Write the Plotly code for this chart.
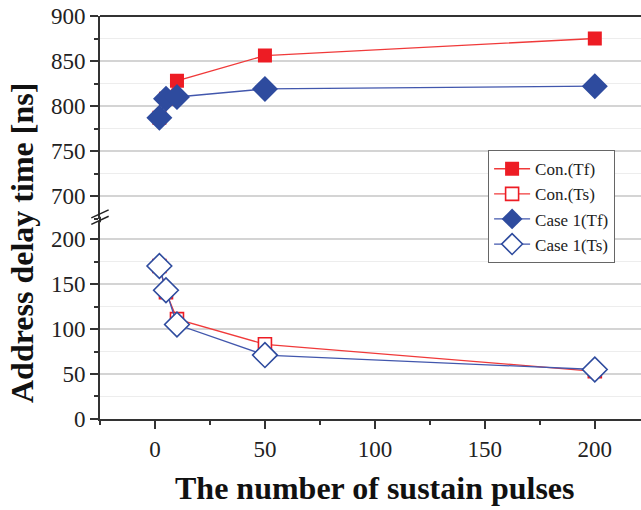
import plotly.graph_objects as go

pulses = [2, 5, 10, 50, 200]
con_tf = [787, 808, 828, 856, 875]
con_ts = [170, 141, 111, 83, 53]
case1_tf = [787, 808, 810, 819, 822]
case1_ts = [170, 143, 105, 71, 55]

upper_ticks = [700, 750, 800, 850, 900]
lower_ticks = [0, 50, 100, 150, 200]
x_ticks = [0, 50, 100, 150, 200]

RED = "#ed1c24"
BLUE = "#2e4b9e"
RED_LINE = "#f03a3a"
BLUE_LINE = "#4257ad"
FONT = "'Liberation Serif', 'Times New Roman', serif"

fig = go.Figure()
fig.add_trace(go.Scatter(x=pulses, y=con_tf, name="Con.(Tf)", yaxis="y2", mode="lines+markers",
                         line=dict(color=RED_LINE, width=1.3),
                         marker=dict(symbol="square", size=14, color=RED, line=dict(width=0))))
fig.add_trace(go.Scatter(x=pulses, y=con_ts, name="Con.(Ts)", yaxis="y", mode="lines+markers",
                         line=dict(color=RED_LINE, width=1.3),
                         marker=dict(symbol="square", size=13, color="white", line=dict(color=RED, width=1.6))))
fig.add_trace(go.Scatter(x=pulses, y=case1_tf, name="Case 1(Tf)", yaxis="y2", mode="lines+markers",
                         line=dict(color=BLUE_LINE, width=1.3),
                         marker=dict(symbol="diamond", size=20, color=BLUE, line=dict(width=0))))
fig.add_trace(go.Scatter(x=pulses, y=case1_ts, name="Case 1(Ts)", yaxis="y", mode="lines+markers",
                         line=dict(color=BLUE_LINE, width=1.3),
                         marker=dict(symbol="diamond", size=19, color="white", line=dict(color=BLUE, width=1.6))))

tickfont = dict(family=FONT, size=23, color="#222")
axcommon = dict(showline=True, linecolor="#333", linewidth=2, ticks="outside", ticklen=8, tickwidth=1.5,
                tickcolor="#333", tickfont=tickfont, zeroline=False,
                gridcolor="#d4d4d4", gridwidth=1.5)

fig.update_layout(
    width=641, height=510,
    margin=dict(l=100, r=0, t=16, b=91),
    paper_bgcolor="white", plot_bgcolor="white",
    font=dict(family=FONT),
    xaxis=dict(range=[-25, 221], tickvals=x_ticks, anchor="y",
               minor=dict(dtick=25, tick0=0, ticks="outside", ticklen=4, tickcolor="#333", showgrid=False),
               showgrid=False, **axcommon),
    yaxis=dict(domain=[0, 0.4913], range=[0, 220], tickvals=lower_ticks, anchor="x",
               minor=dict(dtick=25, tick0=0, ticks="outside", ticklen=4, tickcolor="#333",
                          showgrid=True, gridcolor="#ededed", gridwidth=1),
               showgrid=True, **axcommon),
    yaxis2=dict(domain=[0.4975, 1], range=[675, 900], tickvals=upper_ticks, anchor="x",
                minor=dict(dtick=25, tick0=0, ticks="outside", ticklen=4, tickcolor="#333",
                           showgrid=True, gridcolor="#ededed", gridwidth=1),
                showgrid=True, **axcommon),
    legend=dict(x=0.717, y=0.6675, xanchor="left", yanchor="top",
                bgcolor="white", bordercolor="#666", borderwidth=1.2,
                font=dict(family=FONT, size=17, color="#222"),
                tracegroupgap=0, itemsizing="trace", itemwidth=36),
    showlegend=True,
)

shapes = []
shapes.append(dict(type="line", xref="paper", yref="paper", x0=0, x1=1, y0=1, y1=1,
                   line=dict(color="#333", width=2)))
shapes.append(dict(type="line", xref="paper", yref="paper", x0=0, x1=0, y0=0.488, y1=0.502,
                   line=dict(color="#333", width=2)))
for dy in [0.0, 0.016]:
    shapes.append(dict(type="line", xref="paper", yref="paper",
                       x0=-0.016, x1=0.016, y0=0.483 + dy, y1=0.503 + dy,
                       line=dict(color="#222", width=1.5)))
fig.update_layout(shapes=shapes)

fig.add_annotation(text="<b>Address delay time [ns]</b>", xref="paper", yref="paper",
                   x=-0.144, y=0.437, xanchor="center", yanchor="middle", textangle=-90,
                   showarrow=False, font=dict(family=FONT, size=32, color="#111"))
fig.add_annotation(text="<b>The number of sustain pulses</b>", xref="paper", yref="paper",
                   x=0.508, y=-0.171, xanchor="center", yanchor="middle",
                   showarrow=False, font=dict(family=FONT, size=32, color="#111"))

fig.write_html("out.html")
